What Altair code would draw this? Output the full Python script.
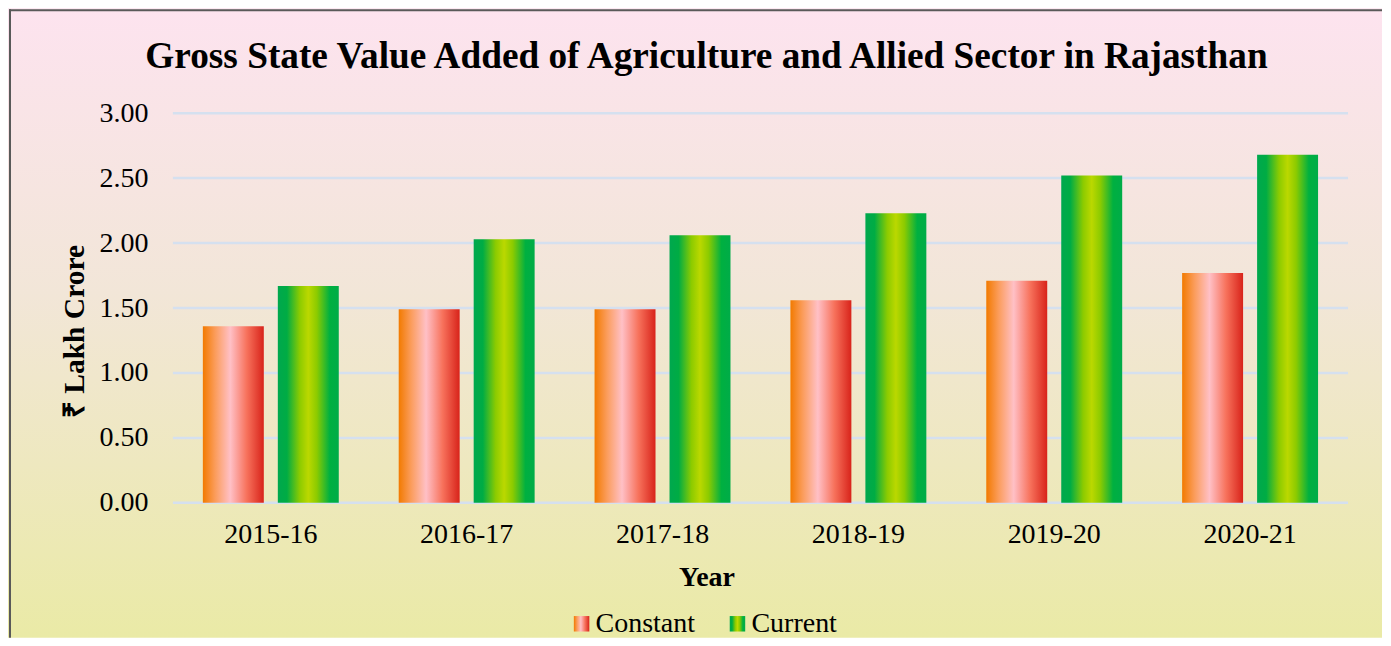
import altair as alt
import pandas as pd

TITLE = "Gross State Value Added of Agriculture and Allied Sector in Rajasthan"
years = ["2015-16", "2016-17", "2017-18", "2018-19", "2019-20", "2020-21"]
series = ["Constant", "Current"]
constant = [1.36, 1.49, 1.49, 1.56, 1.71, 1.77]
current = [1.67, 2.03, 2.06, 2.23, 2.52, 2.68]
y_ticks = [0, 0.5, 1.0, 1.5, 2.0, 2.5, 3.0]

rows = []
for yr, c1, c2 in zip(years, constant, current):
    rows.append({"year": yr, "series": "Constant", "value": c1})
    rows.append({"year": yr, "series": "Current", "value": c2})
df = pd.DataFrame(rows)

W, H = 1176, 390
SERIF = "Liberation Serif"

grad_constant = ("{gradient: 'linear', x1: 0, y1: 0, x2: 1, y2: 0, stops: ["
                 "{offset: 0, color: '#F27A00'}, {offset: 0.2, color: '#FB9C5A'}, "
                 "{offset: 0.45, color: '#FFC0C6'}, {offset: 0.72, color: '#F7725C'}, "
                 "{offset: 1, color: '#D8231A'}]}")
grad_current = ("{gradient: 'linear', x1: 0, y1: 0, x2: 1, y2: 0, stops: ["
                "{offset: 0, color: '#00A84E'}, {offset: 0.15, color: '#00AC44'}, "
                "{offset: 0.36, color: '#8CCB00'}, {offset: 0.5, color: '#BBD800'}, "
                "{offset: 0.64, color: '#8CCB00'}, {offset: 0.85, color: '#00B040'}, "
                "{offset: 1, color: '#00AC48'}]}")

bg_grad = alt.Gradient(
    gradient="linear", x1=0, y1=0, x2=0, y2=1,
    stops=[alt.GradientStop(offset=0, color="#FDE3EF"),
           alt.GradientStop(offset=0.45, color="#F2E6D8"),
           alt.GradientStop(offset=1, color="#EAEAA6")],
)

one = pd.DataFrame({"t": [TITLE]})
grid_df = pd.DataFrame({"value": y_ticks})

y_enc = alt.Y("value:Q",
              scale=alt.Scale(domain=[0, 3], nice=False),
              axis=alt.Axis(values=y_ticks, format=".2f", ticks=False, domain=False,
                            grid=False, zindex=1,
                            labelFont=SERIF, labelFontSize=28, labelColor="black", labelPadding=25,
                            title="₹ Lakh Crore", titleFont=SERIF, titleFontSize=29.5,
                            titleFontWeight="bold", titleColor="black", titlePadding=9,
                            titleY=218))

background = alt.Chart(one).mark_rect(color=bg_grad).encode(
    x=alt.value(-165), x2=alt.value(1210), y=alt.value(-105), y2=alt.value(525)
)
border_left = alt.Chart(one).mark_rule(color="#595959", strokeWidth=2).encode(
    x=alt.value(-163), y=alt.value(-104), y2=alt.value(525)
)
border_top = alt.Chart(one).mark_rule(color="#595959", strokeWidth=2).encode(
    x=alt.value(-164), x2=alt.value(1210), y=alt.value(-103)
)

title = alt.Chart(one).mark_text(
    font=SERIF, fontSize=37.3, fontWeight="bold", color="black",
    align="center", baseline="alphabetic",
).encode(text="t:N", x=alt.value(534), y=alt.value(-45))

grid = alt.Chart(grid_df).mark_rule(color="#D5E0EF", strokeWidth=2.5).encode(
    y=y_enc, x=alt.value(0), x2=alt.value(W)
)

bars = alt.Chart(df).mark_bar().encode(
    x=alt.X("year:N", sort=years,
            scale=alt.Scale(paddingInner=0.306, paddingOuter=0.153),
            axis=alt.Axis(title="Year", labelAngle=0, ticks=False, domain=False, grid=False,
                          zindex=1,
                          labelFont=SERIF, labelFontSize=28, labelColor="black", labelPadding=18,
                          titleFont=SERIF, titleFontSize=28, titleFontWeight="bold",
                          titleColor="black", titleX=534, titlePadding=15)),
    xOffset=alt.XOffset("series:N", sort=series,
                        scale=alt.Scale(paddingInner=0.187, paddingOuter=0)),
    y=y_enc,
    color=alt.Color("series:N",
                    scale=alt.Scale(domain=series,
                                    range=[alt.ExprRef(grad_constant), alt.ExprRef(grad_current)]),
                    legend=alt.Legend(orient="none", legendX=395, legendY=497,
                                      direction="horizontal", title=None, padding=0,
                                      symbolType="square", symbolSize=240,
                                      symbolStrokeWidth=0, symbolOpacity=1,
                                      labelFont=SERIF, labelFontSize=28, labelColor="black",
                                      labelOffset=0, columnPadding=28)),
)

chart = alt.layer(background, border_left, border_top, title, grid, bars).properties(
    width=W, height=H, padding=0, background="white"
).configure_view(stroke=None)

chart.save("out.html", embed_options={"renderer": "svg", "actions": False})
